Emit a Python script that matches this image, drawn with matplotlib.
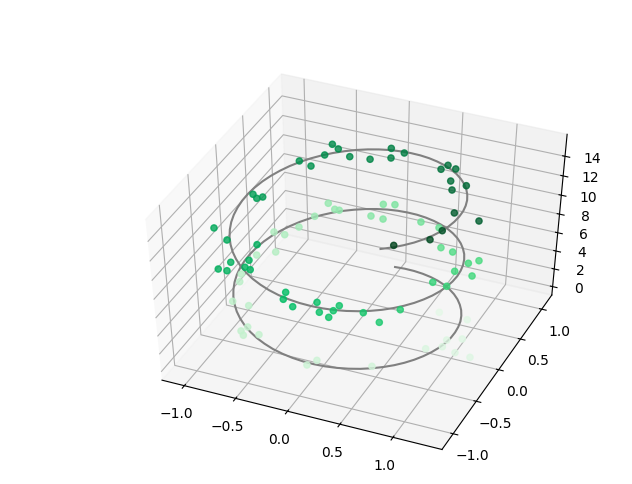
import numpy as np
import matplotlib
matplotlib.use('Agg')
import matplotlib.pyplot as plt
from matplotlib.colors import LinearSegmentedColormap

xdata=[0.721, 1.007, 1.096, 0.983, 0.993, 0.88, 1.127, 1.271, 0.587, 0.14, 0.095, -0.58, -0.606, -0.562, -0.449, -0.851, -0.7, -0.911, -0.945, -0.932, -0.784, -0.82, -0.933, -0.746, -0.683, -0.65, -0.551, -0.504, -0.155, -0.049, -0.184, -0.057, 0.298, 0.496, 0.652, 0.788, 1.062, 0.996, 0.947, 1.109, 0.86, 0.987, 0.795, 0.72, 0.546, 0.33, 0.318, 0.325, 0.227, 0.149, 0.001, -0.112, -0.138, -0.531, -0.584, -0.597, -0.719, -0.695, -0.77, -0.629, -0.882, -1.059, -0.848, -0.891, -0.949, -0.639, -0.774, -0.596, -0.52, -0.604, -0.368, -0.175, -0.003, -0.066, 0.078, 0.505, 0.538, 0.629, 0.669, 0.746, 0.834, 0.94, 1.171, 0.97, 0.94, 0.72]
ydata=[0.359, 0.32, 0.002, -0.08, -0.198, -0.301, -0.23, -0.235, -0.775, -0.927, -1.029, -0.799, -0.874, -0.918, -0.846, -0.545, -0.538, -0.288, -0.19, 0.088, 0.168, 0.422, 0.436, 0.56, 0.752, 0.964, 0.891, 0.886, 1.067, 1.085, 0.868, 0.848, 0.875, 0.819, 0.505, 0.445, 0.381, 0.303, 0.12, 0.119, -0.148, -0.143, -0.671, -0.925, -0.864, -0.871, -0.961, -1.064, -1.038, -0.919, -1.074, -1.019, -0.921, -0.788, -0.779, -0.678, -0.774, -0.891, -0.903, -0.462, -0.52, -0.413, 0.093, 0.065, 0.109, 0.612, 0.66, 0.797, 0.913, 0.969, 0.823, 0.824, 0.881, 1.026, 0.98, 0.793, 0.866, 0.821, 0.622, 0.472, 0.571, 0.07, 0.05, -0.248, -0.428, -0.657]
zdata=[1.04, 1.25, 1.52, 1.66, 1.76, 1.94, 1.69, 1.61, 2.5, 2.98, 3.06, 3.77, 3.78, 3.73, 3.61, 4.14, 4.02, 4.42, 4.53, 4.84, 5.04, 5.22, 5.14, 5.37, 5.5, 5.69, 5.73, 5.77, 6.16, 6.27, 6.05, 6.16, 6.56, 6.79, 7.03, 7.3, 7.49, 7.55, 7.76, 7.69, 8.12, 8.0, 8.54, 8.73, 8.86, 9.06, 9.11, 9.13, 9.22, 9.25, 9.44, 9.54, 9.55, 10.0, 10.06, 10.1, 10.2, 10.14, 10.2, 10.26, 10.47, 10.6, 11.2, 11.13, 11.14, 11.78, 11.7, 11.93, 12.05, 12.01, 12.14, 12.32, 12.52, 12.51, 12.64, 13.09, 13.14, 13.25, 13.31, 13.49, 13.54, 14.11, 14.0, 14.39, 14.55, 14.88]

# helix line, at steps of 0.2 in z and at the midpoints between them
line_x_a=[0.0, 0.199, 0.389, 0.565, 0.717, 0.841, 0.932, 0.985, 1.0, 0.974, 0.909, 0.808, 0.675, 0.516, 0.335, 0.141, -0.058, -0.256, -0.443, -0.612, -0.757, -0.872, -0.952, -0.994, -0.996, -0.959, -0.883, -0.773, -0.631, -0.465, -0.279, -0.083, 0.117, 0.312, 0.494, 0.657, 0.794, 0.899, 0.968, 0.999, 0.989, 0.941, 0.855, 0.734, 0.585, 0.412, 0.223, 0.025, -0.174, -0.366, -0.544, -0.7, -0.828, -0.923, -0.981, -1.0, -0.979, -0.919, -0.823, -0.694, -0.537, -0.358, -0.166, 0.034, 0.232, 0.42, 0.592, 0.74, 0.859, 0.944, 0.991, 0.998, 0.966, 0.895, 0.788, 0.65]
line_y_a=[1.0, 0.98, 0.921, 0.825, 0.697, 0.54, 0.362, 0.17, -0.029, -0.227, -0.416, -0.589, -0.737, -0.857, -0.942, -0.99, -0.998, -0.967, -0.897, -0.791, -0.654, -0.49, -0.307, -0.112, 0.087, 0.284, 0.469, 0.635, 0.776, 0.886, 0.96, 0.997, 0.993, 0.95, 0.869, 0.754, 0.608, 0.439, 0.251, 0.054, -0.146, -0.339, -0.519, -0.679, -0.811, -0.911, -0.975, -1.0, -0.985, -0.93, -0.839, -0.714, -0.561, -0.385, -0.194, 0.004, 0.203, 0.393, 0.568, 0.72, 0.844, 0.934, 0.986, 0.999, 0.973, 0.907, 0.806, 0.672, 0.512, 0.331, 0.137, -0.063, -0.26, -0.446, -0.615, -0.76]
line_z_a=[0.0, 0.2, 0.4, 0.6, 0.8, 1.0, 1.2, 1.4, 1.6, 1.8, 2.0, 2.2, 2.4, 2.6, 2.8, 3.0, 3.2, 3.4, 3.6, 3.8, 4.0, 4.2, 4.4, 4.6, 4.8, 5.0, 5.2, 5.4, 5.6, 5.8, 6.0, 6.2, 6.4, 6.6, 6.8, 7.0, 7.2, 7.4, 7.6, 7.8, 8.0, 8.2, 8.4, 8.6, 8.8, 9.0, 9.2, 9.4, 9.6, 9.8, 10.0, 10.2, 10.4, 10.6, 10.8, 11.0, 11.2, 11.4, 11.6, 11.8, 12.0, 12.2, 12.4, 12.6, 12.8, 13.0, 13.2, 13.4, 13.6, 13.8, 14.0, 14.2, 14.4, 14.6, 14.8, 15.0]
line_x_b=[0.1, 0.296, 0.479, 0.644, 0.783, 0.891, 0.964, 0.997, 0.992, 0.946, 0.863, 0.746, 0.598, 0.427, 0.239, 0.042, -0.158, -0.351, -0.53, -0.688, -0.818, -0.916, -0.978, -1.0, -0.982, -0.926, -0.832, -0.706, -0.551, -0.374, -0.182, 0.017, 0.215, 0.405, 0.578, 0.729, 0.85, 0.938, 0.988, 0.999, 0.97, 0.902, 0.798, 0.663, 0.501, 0.319, 0.124, -0.075, -0.272, -0.458, -0.625, -0.768, -0.88, -0.957, -0.995, -0.995, -0.954, -0.875, -0.762, -0.618, -0.45, -0.263, -0.066, 0.133, 0.327, 0.509, 0.67, 0.804, 0.906, 0.972, 0.999, 0.987, 0.935, 0.846, 0.723]
line_y_b=[0.995, 0.955, 0.878, 0.765, 0.622, 0.454, 0.267, 0.071, -0.129, -0.323, -0.505, -0.666, -0.801, -0.904, -0.971, -0.999, -0.987, -0.936, -0.848, -0.726, -0.575, -0.401, -0.211, -0.012, 0.187, 0.378, 0.554, 0.709, 0.835, 0.927, 0.983, 1.0, 0.977, 0.914, 0.816, 0.685, 0.526, 0.347, 0.153, -0.046, -0.244, -0.431, -0.602, -0.749, -0.865, -0.948, -0.992, -0.997, -0.962, -0.889, -0.781, -0.641, -0.476, -0.291, -0.095, 0.104, 0.3, 0.483, 0.648, 0.786, 0.893, 0.965, 0.998, 0.991, 0.945, 0.861, 0.743, 0.595, 0.423, 0.235, 0.037, -0.162, -0.355, -0.534, -0.691]
line_z_b=[0.1, 0.3, 0.5, 0.7, 0.9, 1.1, 1.3, 1.5, 1.7, 1.9, 2.1, 2.3, 2.5, 2.7, 2.9, 3.1, 3.3, 3.5, 3.7, 3.9, 4.1, 4.3, 4.5, 4.7, 4.9, 5.1, 5.3, 5.5, 5.7, 5.9, 6.1, 6.3, 6.5, 6.7, 6.9, 7.1, 7.3, 7.5, 7.7, 7.9, 8.1, 8.3, 8.5, 8.7, 8.9, 9.1, 9.3, 9.5, 9.7, 9.9, 10.1, 10.3, 10.5, 10.7, 10.9, 11.1, 11.3, 11.5, 11.7, 11.9, 12.1, 12.3, 12.5, 12.7, 12.9, 13.1, 13.3, 13.5, 13.7, 13.9, 14.1, 14.3, 14.5, 14.7, 14.9]

def merge(a, b):
    out = np.empty(len(a) + len(b))
    out[::2] = a
    out[1::2] = b
    return out

greens = LinearSegmentedColormap.from_list('vivid', [(0.0, '#f0faf1'), (0.33, '#b4eec2'), (0.5, '#46da7e'), (0.63, '#00be64'), (0.8, '#008c4b'), (0.93, '#005f30'), (1.0, '#004019')])

fig = plt.figure(figsize=(6.32, 4.85), dpi=100)
ax = fig.add_subplot(projection='3d')
ax.set_box_aspect((1, 1, 1))
ax.view_init(45.57, -66.65)
ax.apply_aspect = lambda position=None: None
ax.set_position([0.14980731, 0.05479073, 0.8196373, 0.794324])
ax.plot3D(merge(line_x_a, line_x_b), merge(line_y_a, line_y_b), merge(line_z_a, line_z_b), 'gray')
ax.scatter3D(xdata, ydata, zdata, c=zdata, cmap=greens, vmin=0.1, vmax=15, depthshade=False, alpha=0.8)
ax.set_xlim(-1.2195, 1.4564)
ax.set_ylim(-1.2372, 1.2424)
ax.set_zlim(-0.9631, 16.1933)
ax.set_zticks([0, 2, 4, 6, 8, 10, 12, 14])
fig.savefig('out.png', dpi=100)
